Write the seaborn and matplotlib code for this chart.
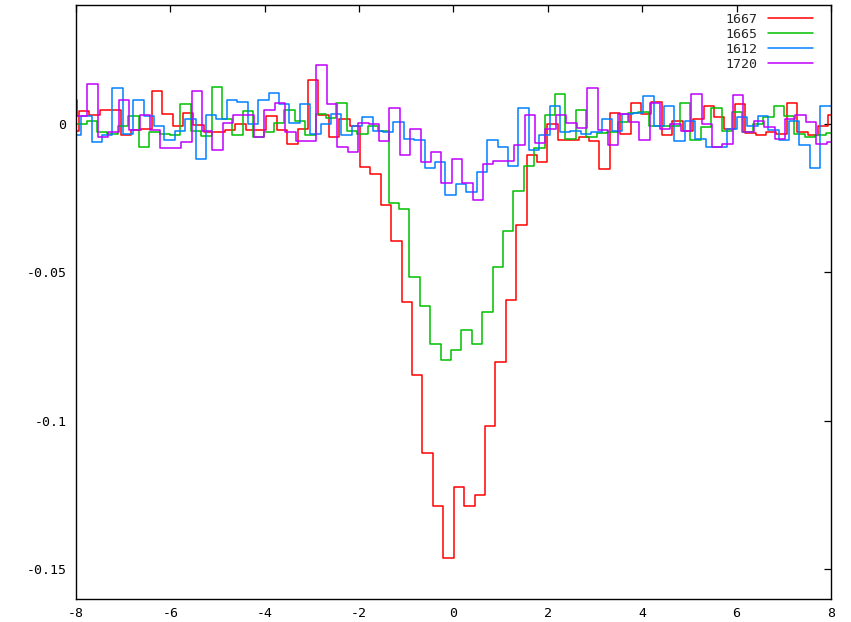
import numpy as np
import pandas as pd
import matplotlib
matplotlib.use("Agg")
import matplotlib.pyplot as plt
import seaborn as sns

# Velocity channel width and the left edge of the first channel of each spectrum
CHANNEL_WIDTH = 0.2206
first_edge_1667 = -8.158
first_edge_1665 = -8.2156
first_edge_1612 = -8.1116
first_edge_1720 = -8.198

# Optical depth spectra, one value per channel, in units of 1e-3
tau_1667 = [-2.3, 4.3, 3.0, 4.7, 4.7, -3.9, -2.2, -1.7, 11.0, 3.4,
            -0.6, 3.8, -0.3, -2.8, -2.8, -2.0, -0.2, -2.0, -2.2, 2.6,
            -2.2, -6.8, -1.7, 14.9, 3.0, -4.5, 1.7, -0.6, -14.6, -16.9,
            -27.3, -39.4, -60.1, -84.5, -111.0, -128.6, -146.1, -122.3, -128.6, -125.0,
            -101.9, -80.3, -59.2, -34.0, -10.5, -12.7, -0.2, -5.4, -5.4, -4.5,
            -5.9, -15.2, 3.6, -3.4, 7.0, 3.4, 7.3, -3.7, 0.9, -2.3,
            1.7, 6.0, 2.3, -1.7, 6.8, -3.2, -3.9, -2.8, -3.4, 7.0,
            -2.8, -3.7, -0.9, 3.0]

tau_1665 = [-12.0, -0.2, 1.1, -2.8, -3.4, -0.6, 2.5, -7.7, -2.8, -3.4,
            -3.9, 6.5, -2.3, -4.0, 12.4, 1.7, -3.9, 4.3, -4.5, -2.6,
            0.2, 4.7, 1.1, -3.9, 3.4, 1.9, 6.9, -2.3, -3.6, -0.6,
            -2.3, -26.7, -28.6, -51.5, -61.4, -74.0, -79.4, -76.2, -69.5, -74.0,
            -63.2, -48.3, -36.1, -22.6, -14.1, -8.0, 3.0, 10.1, -5.1, 4.7,
            -4.3, -3.2, -2.8, 0.6, 3.6, 3.9, -0.6, -0.6, -0.6, 7.0,
            -5.4, -1.1, 5.3, -2.3, 3.9, -2.8, 0.0, 2.3, 5.9, 2.5,
            -3.4, -4.5, -3.9, -3.2]

tau_1612 = [-3.9, 2.5, -6.2, -3.9, 12.2, -3.4, 7.9, 2.5, -0.6, -5.4,
            -2.3, 1.7, -11.8, 2.8, 1.7, 7.9, 7.5, -0.2, 7.9, 10.5,
            6.8, 0.2, 6.5, -3.6, -0.2, 3.4, -3.9, -0.6, 2.3, -2.3,
            -2.8, 0.7, -5.1, -5.6, -15.0, -12.9, -23.9, -20.4, -23.0, -16.3,
            -5.6, -7.9, -14.1, 5.3, -8.7, -3.7, 5.9, -2.8, -2.3, -3.4,
            -2.9, 1.7, -2.5, 3.2, 3.6, 9.2, -0.6, 5.9, -5.9, 1.1,
            -5.1, -7.7, -7.7, -1.7, 2.3, -0.6, 2.5, -2.0, -5.4, 1.1,
            -7.0, -15.0, 5.9, 5.9]

tau_1720 = [7.9, 2.5, 13.3, -4.5, -2.8, 7.9, -2.0, 2.8, -2.0, -8.3,
            -8.3, -6.2, 11.0, -2.5, -8.8, 0.2, 2.8, 2.8, -4.5, 4.7,
            7.0, -2.8, -5.9, -5.9, 19.7, 6.5, -7.9, -9.6, 0.2, -0.2,
            -5.9, 5.3, -10.4, -1.6, -12.7, -9.6, -19.9, -11.8, -19.9, -25.8,
            -13.5, -12.4, -12.4, -7.3, 3.0, -6.5, -1.7, 3.0, 0.2, -1.4,
            12.0, -2.0, -7.3, 3.4, 0.6, -5.4, 7.0, -1.7, 0.0, -2.3,
            10.1, -0.1, -7.7, -6.8, 9.6, -2.8, 1.1, -1.1, -5.1, 1.7,
            2.8, 0.6, -6.8, -6.2]

series_names = ["1667", "1665", "1612", "1720"]
series_values = [tau_1667, tau_1665, tau_1612, tau_1720]
series_starts = [first_edge_1667, first_edge_1665, first_edge_1612, first_edge_1720]
series_colors = ["#ff0000", "#00c000", "#0080ff", "#c000ff"]

x_ticks = [-8, -6, -4, -2, 0, 2, 4, 6, 8]
x_tick_labels = ["-8", "-6", "-4", "-2", "0", "2", "4", "6", "8"]
y_ticks = [-0.15, -0.1, -0.05, 0.0]
y_tick_labels = ["-0.15", "-0.1", "-0.05", "0"]

sns.set_theme(style="white")
plt.rcParams["font.family"] = ["DejaVu Sans Mono", "DejaVu Sans"]
plt.rcParams["axes.unicode_minus"] = False

W, H = 851, 622
fig = plt.figure(figsize=(W / 100, H / 100), dpi=100)
fig.patch.set_facecolor("white")
ax = fig.add_axes([76 / W, 1 - 599 / H, (831 - 76) / W, (599 - 5) / H])

frames = []
for name, vals, start in zip(series_names, series_values, series_starts):
    tau = np.asarray(vals) * 1e-3
    edges = start + CHANNEL_WIDTH * np.arange(len(tau) + 1)
    frames.append(pd.DataFrame({"velocity": edges,
                                "tau": np.append(tau, tau[-1]),
                                "line": name}))
spectra = pd.concat(frames, ignore_index=True)

for name, color in zip(series_names, series_colors):
    sns.lineplot(data=spectra[spectra["line"] == name], x="velocity", y="tau",
                 drawstyle="steps-post", color=color, linewidth=1.1,
                 label=name, estimator=None, sort=False, ax=ax)

ax.set_xlim(-8, 8)
ax.set_ylim(-0.16, 0.04)
ax.set_xticks(x_ticks)
ax.set_xticklabels(x_tick_labels)
ax.set_yticks(y_ticks)
ax.set_yticklabels(y_tick_labels)
ax.set_xlabel("")
ax.set_ylabel("")

for s in ax.spines.values():
    s.set_color("#000000")
    s.set_linewidth(1.0)
ax.tick_params(axis="both", direction="in", length=5, width=0.9,
               top=True, right=True, labelsize=9.5, colors="#000000")
ax.tick_params(axis="y", pad=7)
ax.tick_params(axis="x", pad=6)

ax.legend(loc="upper right", bbox_to_anchor=((813 - 76) / 755, 1 - 8 / 594),
          frameon=False, markerfirst=False, fontsize=9.5,
          handlelength=3.4, handletextpad=0.8, labelspacing=0.14,
          borderpad=0, borderaxespad=0)

fig.savefig("out.png", dpi=100, facecolor="white")
